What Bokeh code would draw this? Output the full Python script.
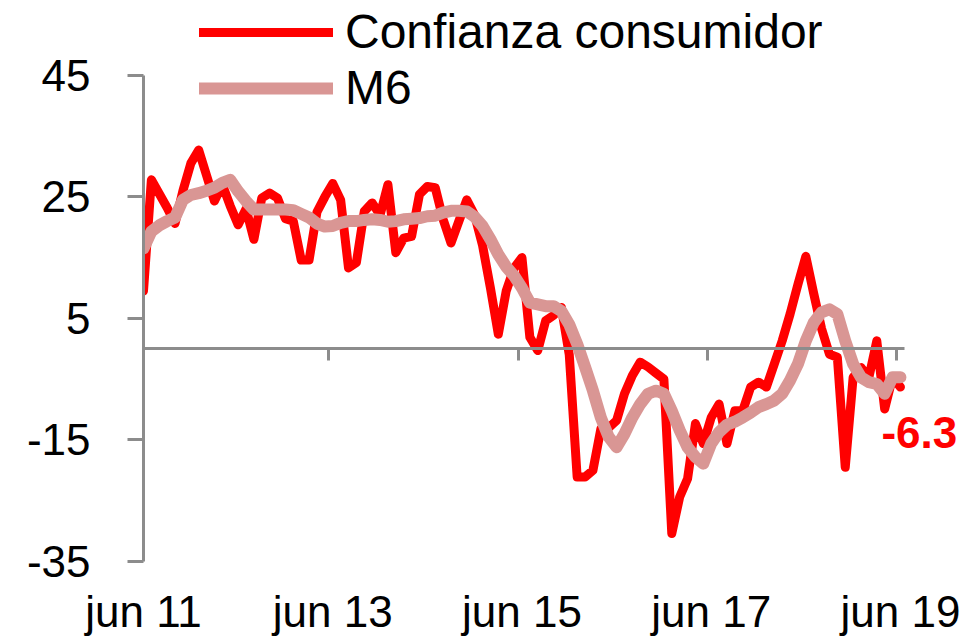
from bokeh.plotting import figure
from bokeh.models import Range1d, FixedTicker, LinearAxis, Legend, LegendItem, Label
from bokeh.embed import file_html
from bokeh.resources import INLINE

# monthly index: 0 = jun 2011 ... 96 = jun 2019
months = list(range(97))

confianza = [9.5, 27.8, 25.5, 23.2, 20.6, 26.0, 30.5, 32.7, 28.5, 24.3,
             27.0, 23.5, 20.4, 23.0, 18.0, 24.8, 25.6, 24.8, 21.4, 21.0,
             14.6, 14.6, 22.5, 25.0, 27.2, 24.5, 13.3, 14.2, 22.6, 24.0,
             22.0, 27.0, 15.8, 18.2, 18.5, 25.4, 26.7, 26.5, 21.3, 17.4,
             21.0, 24.5, 22.0, 17.0, 10.0, 2.4, 9.5, 13.3, 15.0, 1.9,
             -0.3, 4.6, 5.5, 6.8, -1.0, -21.1, -21.1, -20.0, -13.2, -13.0,
             -11.8, -7.4, -4.4, -2.2, -3.0, -4.0, -5.0, -30.4, -24.4, -21.4,
             -12.3, -15.6, -11.3, -9.1, -15.6, -10.2, -10.2, -6.3, -5.5, -6.3,
             -2.5, 1.3, 5.7, 10.6, 15.2, 9.1, 3.3, -0.9, -1.4, -19.5,
             -4.7, -3.1, -4.7, 1.3, -9.9, -4.7, -6.3]

m6 = [16.5, 19.3, 20.3, 21.0, 21.6, 24.5, 25.3, 25.6, 26.0, 26.5,
      27.3, 27.8, 25.9, 24.3, 22.9, 22.9, 22.9, 22.9, 22.9, 22.8,
      22.2, 21.6, 20.6, 20.1, 20.2, 20.7, 21.0, 21.0, 21.2, 21.3,
      21.2, 20.9, 21.0, 21.3, 21.4, 21.5, 21.8, 21.9, 22.4, 22.7,
      22.7, 22.6, 21.7, 20.2, 18.0, 15.5, 13.5, 12.0, 10.0, 7.6,
      7.3, 7.0, 7.0, 6.2, 4.0, 0.8, -3.0, -6.9, -11.3, -14.5,
      -16.2, -14.0, -11.3, -9.1, -7.4, -6.9, -7.4, -10.2, -13.4, -16.2,
      -17.8, -18.9, -15.6, -13.7, -12.5, -12.0, -11.3, -10.5, -9.6, -9.1,
      -8.5, -7.4, -5.2, -2.5, 1.3, 4.3, 6.0, 6.5, 5.7, 1.3,
      -2.5, -4.7, -5.5, -5.8, -7.4, -4.7, -4.7]

label_idx = [0, 24, 48, 72, 96]
label_text = ["jun 11", "jun 13", "jun 15", "jun 17", "jun 19"]
zero_ticks = [23.5, 47.5, 71.5, 95.5]
y_ticks = [-35, -15, 5, 25, 45]
y_min, y_max = -35, 45

FONT = "Liberation Sans"
GREY = "#8c8c8c"
RED = "#FF0000"
PINK = "#D99694"

# the frame reaches above the 45 tick to leave room for the legend;
# the y axis line itself is bounded to [-35, 45]
p = figure(width=978, height=638, output_backend="svg", toolbar_location=None,
           x_range=Range1d(0, 105.9), y_range=Range1d(y_min, 56.64),
           x_axis_type=None, y_axis_type=None,
           min_border_left=143, min_border_top=4, min_border_right=0,
           min_border_bottom=75)
p.outline_line_color = None
p.background_fill_color = "white"
p.border_fill_color = "white"

yaxis = LinearAxis(ticker=FixedTicker(ticks=y_ticks), bounds=(y_min, y_max),
                   major_label_overrides={t: str(t) for t in y_ticks},
                   axis_line_color=GREY, axis_line_width=3,
                   major_tick_line_color=GREY, major_tick_line_width=3,
                   major_tick_out=16, major_tick_in=0,
                   minor_tick_line_color=None,
                   major_label_text_font=FONT, major_label_text_font_size="44px",
                   major_label_text_color="black", major_label_standoff=37)
p.add_layout(yaxis, "left")

xaxis = LinearAxis(ticker=FixedTicker(ticks=label_idx),
                   major_label_overrides=dict(zip(label_idx, label_text)),
                   axis_line_color=None, major_tick_line_color=None,
                   minor_tick_line_color=None, major_tick_out=0, major_tick_in=0,
                   major_label_text_font=FONT, major_label_text_font_size="44px",
                   major_label_text_color="black", major_label_standoff=25)
p.add_layout(xaxis, "below")

zaxis = LinearAxis(fixed_location=0, bounds=(months[0], months[-1] + 0.5),
                   ticker=FixedTicker(ticks=zero_ticks),
                   axis_line_color=GREY, axis_line_width=3,
                   major_tick_line_color=GREY, major_tick_line_width=3,
                   major_tick_in=12, major_tick_out=0,
                   minor_tick_line_color=None,
                   major_label_text_color=None, major_label_text_font_size="1px",
                   major_label_standoff=0)
p.add_layout(zaxis, "above")

r1 = p.line(months, confianza, line_color=RED, line_width=9,
            line_join="round", line_cap="round")
r2 = p.line(months, m6, line_color=PINK, line_width=12,
            line_join="round", line_cap="round")

legend = Legend(items=[LegendItem(label="Confianza consumidor", renderers=[r1]),
                       LegendItem(label="M6", renderers=[r2])],
                location=(56, 446), orientation="vertical",
                border_line_color=None, background_fill_alpha=0,
                padding=0, margin=0, spacing=1,
                glyph_width=134, glyph_height=40, label_standoff=12,
                label_text_font=FONT, label_text_font_size="48px",
                label_text_color="black")
p.add_layout(legend, "center")

last = Label(x=months[-1], y=confianza[-1], text=f"{confianza[-1]:.1f}",
             text_color=RED, text_font=FONT, text_font_style="bold",
             text_font_size="44px", text_align="left", text_baseline="middle",
             x_offset=-19, y_offset=-45)
p.add_layout(last)

open("out.html", "w").write(file_html(p, INLINE))
